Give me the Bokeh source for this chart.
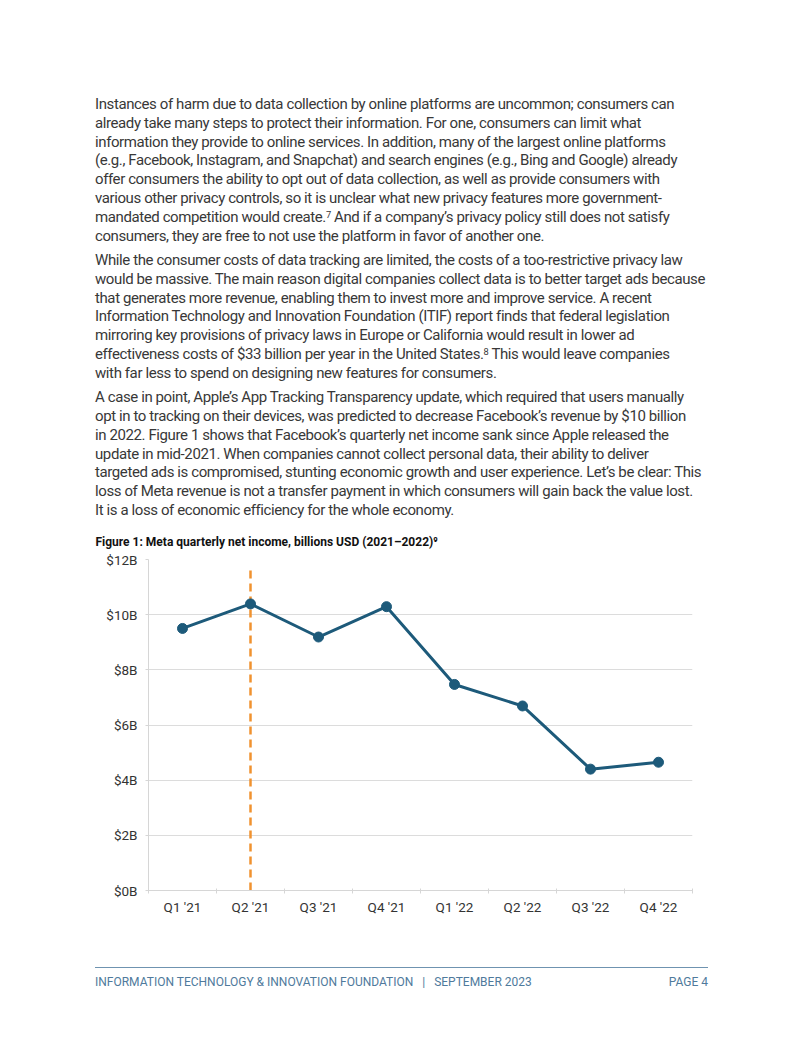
from bokeh.plotting import figure
from bokeh.models import Div, Range1d, FixedTicker, PrintfTickFormatter, ColumnDataSource
from bokeh.layouts import column
from bokeh.embed import file_html
from bokeh.resources import INLINE

# ---------------- data ----------------
quarters = ["Q1 '21", "Q2 '21", "Q3 '21", "Q4 '21", "Q1 '22", "Q2 '22", "Q3 '22", "Q4 '22"]
net_income = [9.50, 10.39, 9.19, 10.29, 7.47, 6.69, 4.40, 4.65]
y_ticks = [0, 2, 4, 6, 8, 10, 12]
release_quarter = "Q2 '21"
release_line_top = 11.6

title_text = "Figure 1: Meta quarterly net income, billions USD (2021\u20132022)\u2079"

SUP = "<span style=\"position:relative; top:-0.45em; font-size:0.62em; line-height:0;\">{}</span>"
para1 = [
    "Instances of harm due to data collection by online platforms are uncommon; consumers can",
    "already take many steps to protect their information. For one, consumers can limit what",
    "information they provide to online services. In addition, many of the largest online platforms",
    "(e.g., Facebook, Instagram, and Snapchat) and search engines (e.g., Bing and Google) already",
    "offer consumers the ability to opt out of data collection, as well as provide consumers with",
    "various other privacy controls, so it is unclear what new privacy features more government-",
    "mandated competition would create." + SUP.format("7") + " And if a company\u2019s privacy policy still does not satisfy",
    "consumers, they are free to not use the platform in favor of another one.",
]
para2 = [
    "While the consumer costs of data tracking are limited, the costs of a too-restrictive privacy law",
    "would be massive. The main reason digital companies collect data is to better target ads because",
    "that generates more revenue, enabling them to invest more and improve service. A recent",
    "Information Technology and Innovation Foundation (ITIF) report finds that federal legislation",
    "mirroring key provisions of privacy laws in Europe or California would result in lower ad",
    "effectiveness costs of $33 billion per year in the United States." + SUP.format("8") + " This would leave companies",
    "with far less to spend on designing new features for consumers.",
]
para3 = [
    "A case in point, Apple\u2019s App Tracking Transparency update, which required that users manually",
    "opt in to tracking on their devices, was predicted to decrease Facebook\u2019s revenue by $10 billion",
    "in 2022. Figure 1 shows that Facebook\u2019s quarterly net income sank since Apple released the",
    "update in mid-2021. When companies cannot collect personal data, their ability to deliver",
    "targeted ads is compromised, stunting economic growth and user experience. Let\u2019s be clear: This",
    "loss of Meta revenue is not a transfer payment in which consumers will gain back the value lost.",
    "It is a loss of economic efficiency for the whole economy.",
]
footer_left = "INFORMATION TECHNOLOGY &amp; INNOVATION FOUNDATION &nbsp;&nbsp;|&nbsp;&nbsp; SEPTEMBER 2023"
footer_right = "PAGE 4"

FONT = "Roboto, sans-serif"
BODY_FS = "15px"
LINE_H = "18.8px"

def para_html(lines, mb):
    body = "<br>".join(lines)
    return (f"<p style=\"margin:0 0 {mb}px 0; padding:0; white-space:nowrap; "
            f"line-height:{LINE_H};\">{body}</p>")

TEXT_H = 520
html = (f"<div style=\"font-family:{FONT}; font-size:{BODY_FS}; color:#383838; "
        f"letter-spacing:-0.4px; padding:95px 0 0 95px; margin:0;\">"
        + para_html(para1, 5.6) + para_html(para2, 5.6) + para_html(para3, 0) + "</div>")

text_div = Div(text=html, width=794, height=TEXT_H, margin=0)

# ---------------- chart ----------------
n = len(quarters)
xs = [i + 0.5 for i in range(n)]
src = ColumnDataSource(dict(x=xs, y=net_income, q=quarters))

FIG_H = 415
p = figure(width=794, height=FIG_H, output_backend="svg", toolbar_location=None,
           x_range=Range1d(0, n), y_range=Range1d(0, 12),
           min_border_left=148, min_border_right=102, min_border_top=39, min_border_bottom=45,
           title=title_text)
p.title.text_font = "Roboto"
p.title.text_font_size = "12px"
p.title.text_font_style = "bold"
p.title.text_color = "#111111"
p.title.align = "left"
p.title.offset = -53
p.title.standoff = 22
p.outline_line_color = None
p.background_fill_color = "white"
p.border_fill_color = "white"

p.xgrid.grid_line_color = None
p.ygrid.grid_line_color = "#dcdcdc"
p.ygrid.ticker = FixedTicker(ticks=y_ticks)

p.yaxis.ticker = FixedTicker(ticks=y_ticks)
p.yaxis.formatter = PrintfTickFormatter(format="$%dB")
p.yaxis.axis_line_color = "#d6d6d6"
p.yaxis.major_tick_line_color = "#d6d6d6"
p.yaxis.major_tick_in = 0
p.yaxis.major_tick_out = 3
p.yaxis.minor_tick_line_color = None
p.yaxis.major_label_standoff = 8
p.yaxis.major_label_text_font = "Roboto"
p.yaxis.major_label_text_font_size = "13.5px"
p.yaxis.major_label_text_color = "#333333"

p.xaxis.ticker = FixedTicker(ticks=xs, minor_ticks=list(range(n + 1)))
p.xaxis.major_label_overrides = {x: q for x, q in zip(xs, quarters)}
p.xaxis.axis_line_color = "#d6d6d6"
p.xaxis.major_tick_line_color = None
p.xaxis.major_tick_in = 0
p.xaxis.major_tick_out = 0
p.xaxis.minor_tick_line_color = "#d6d6d6"
p.xaxis.minor_tick_in = 2
p.xaxis.minor_tick_out = 3
p.xaxis.major_label_standoff = 5
p.xaxis.major_label_text_font = "Roboto"
p.xaxis.major_label_text_font_size = "13.5px"
p.xaxis.major_label_text_color = "#333333"

rx = quarters.index(release_quarter) + 0.5
p.line(x=[rx, rx], y=[0, release_line_top], line_color="#f0922f", line_width=2.5,
       line_dash="8 5")
p.line(x="x", y="y", source=src, line_color="#1d5a7a", line_width=3)
p.scatter(x="x", y="y", source=src, size=10, fill_color="#1d5a7a", line_color="#1d5a7a")

# ---------------- footer ----------------
FOOT_TOP = TEXT_H + FIG_H
FOOT_H = 1037 - FOOT_TOP
rule_y = 967 - FOOT_TOP
text_y = 975 - FOOT_TOP
footer_html = (
    f"<div style=\"position:relative; width:794px; height:{FOOT_H}px; font-family:{FONT};\">"
    f"<div style=\"position:absolute; left:95px; top:{rule_y}px; width:613px; height:0; "
    "border-top:1.5px solid #6f93b0;\"></div>"
    f"<div style=\"position:absolute; left:95px; top:{text_y}px; font-size:12px; color:#4f7a9c; "
    f"white-space:nowrap; line-height:14px;\">{footer_left}</div>"
    f"<div style=\"position:absolute; right:86px; top:{text_y}px; font-size:12px; color:#4f7a9c; "
    f"white-space:nowrap; line-height:14px;\">{footer_right}</div>"
    "</div>"
)
footer_div = Div(text=footer_html, width=794, height=FOOT_H, margin=0)

layout = column(text_div, p, footer_div, spacing=0)

open("out.html", "w").write(file_html(layout, INLINE))
